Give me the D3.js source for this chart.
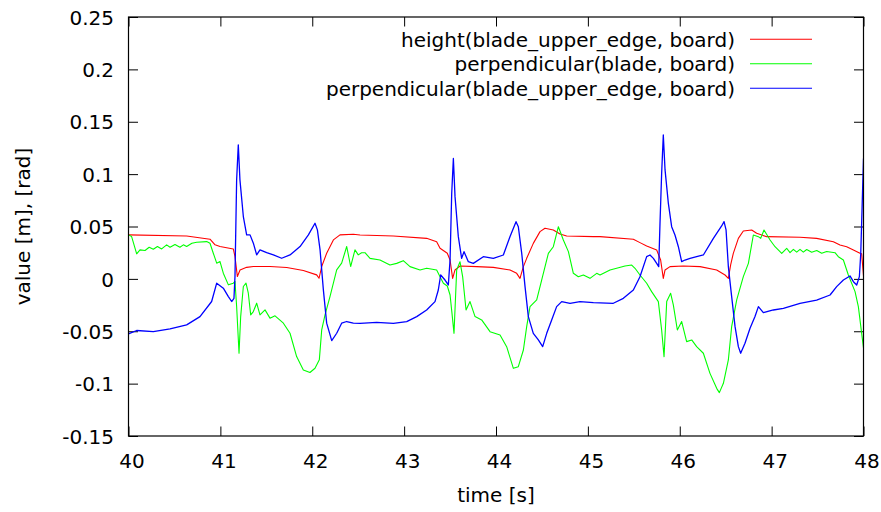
<!DOCTYPE html>
<html>
<head>
<meta charset="utf-8">
<script src="https://cdn.jsdelivr.net/npm/d3@7"></script>
<style>
  body { margin: 0; background: #fff; }
  text { font-family: "DejaVu Sans", sans-serif; fill: #000; }
</style>
</head>
<body>
<div id="chart"></div>
<script>
// data: [time s, value]
const seriesNames = [
  "height(blade_upper_edge, board)",
  "perpendicular(blade, board)",
  "perpendicular(blade_upper_edge, board)"
];

const heightEdge = [
  [40.00,0.042],[40.633,0.041],[40.887,0.0379],[40.942,0.0325],[40.996,0.0309],[41.141,0.0286],
  [41.159,0.0213],[41.185,0.0022],[41.214,0.0085],[41.286,0.011],[41.359,0.0118],[41.540,0.0118],
  [41.722,0.0108],[41.903,0.008],[42.048,0.0038],[42.074,0.0006],[42.103,0.0118],[42.157,0.0245],
  [42.230,0.0372],[42.302,0.042],[42.447,0.0426],[42.52,0.0419],[42.883,0.0409],[43.245,0.0387],
  [43.354,0.0355],[43.391,0.0292],[43.470,0.0244],[43.500,0.018],[43.528,0.0005],[43.554,0.0085],
  [43.608,0.0123],[43.790,0.0117],[43.971,0.011],[44.153,0.0085],[44.225,0.0053],[44.261,0.0005],
  [44.298,0.0117],[44.334,0.0196],[44.406,0.0339],[44.479,0.0451],[44.533,0.0483],[44.624,0.0467],
  [44.697,0.0428],[44.769,0.0409],[45.060,0.0403],[45.132,0.0403],[45.495,0.0378],[45.567,0.0346],
  [45.640,0.0314],[45.749,0.0276],[45.792,0.018],[45.821,0.0005],[45.840,0.0085],[45.894,0.0117],
  [46.039,0.0123],[46.221,0.0117],[46.402,0.0085],[46.493,0.0037],[46.529,0.0005],[46.554,0.0133],
  [46.583,0.0244],[46.638,0.0387],[46.692,0.0457],[46.783,0.0467],[46.837,0.0435],[46.946,0.0403],
  [47.309,0.0397],[47.490,0.0387],[47.672,0.0355],[47.744,0.0323],[47.817,0.0307],[47.890,0.0276],
  [47.962,0.0244],[47.98,0.024],[48.0,0.003]
];

const perpBlade = [
  [40.000,0.042],[40.034,0.0404],[40.089,0.0239],[40.125,0.0277],[40.180,0.0271],[40.225,0.0302],
  [40.270,0.0283],[40.315,0.0309],[40.361,0.0286],[40.415,0.0325],[40.452,0.0302],[40.506,0.0328],
  [40.560,0.0302],[40.597,0.0325],[40.633,0.0309],[40.690,0.034],[40.742,0.035],[40.851,0.0356],
  [40.887,0.034],[40.923,0.0245],[40.960,0.015],[40.996,0.0165],[41.032,0.0054],[41.087,-0.0057],
  [41.141,-0.0041],[41.159,-0.0025],[41.177,-0.0264],[41.203,-0.071],[41.221,-0.036],[41.250,-0.0073],
  [41.279,-0.0041],[41.304,-0.0137],[41.330,-0.0344],[41.359,-0.0312],[41.395,-0.0232],[41.431,-0.0344],
  [41.486,-0.0296],[41.540,-0.0375],[41.595,-0.0353],[41.686,-0.0423],[41.758,-0.0519],[41.830,-0.0742],
  [41.903,-0.0869],[41.975,-0.0894],[42.030,-0.0853],[42.077,-0.0773],[42.103,-0.0487],[42.139,-0.0344],
  [42.193,-0.0169],[42.266,0.0086],[42.320,0.015],[42.375,0.0309],[42.418,0.0118],[42.465,0.0277],
  [42.501,0.0229],[42.537,0.025],[42.574,0.025],[42.629,0.0196],[42.737,0.018],[42.846,0.0132],
  [42.919,0.0148],[42.991,0.0174],[43.064,0.0117],[43.173,0.0085],[43.245,0.0101],[43.354,0.0085],
  [43.391,0.0021],[43.427,-0.0042],[43.470,-0.0068],[43.500,-0.0154],[43.521,-0.0329],[43.543,-0.052],
  [43.572,0.0085],[43.608,0.0164],[43.637,0.0021],[43.674,-0.0297],[43.717,-0.0217],[43.772,-0.036],
  [43.844,-0.0392],[43.935,-0.0504],[44.044,-0.0536],[44.116,-0.0647],[44.189,-0.0854],[44.243,-0.0838],
  [44.298,-0.0679],[44.334,-0.0456],[44.370,-0.0265],[44.443,-0.0201],[44.497,-0.0011],[44.570,0.0244],
  [44.624,0.0307],[44.679,0.0498],[44.733,0.0371],[44.788,0.026],[44.842,0.0053],[44.896,0.0021],
  [44.951,0.0037],[45.023,0.0005],[45.096,0.0053],[45.132,0.0037],[45.241,0.0085],[45.313,0.0101],
  [45.404,0.0123],[45.477,0.0132],[45.513,0.0101],[45.567,0.0037],[45.640,-0.0042],[45.694,-0.0122],
  [45.767,-0.0217],[45.803,-0.0488],[45.829,-0.0742],[45.858,-0.0217],[45.901,-0.0138],[45.930,-0.0249],
  [45.974,-0.0488],[46.021,-0.0408],[46.075,-0.0599],[46.130,-0.0583],[46.184,-0.0647],[46.257,-0.071],
  [46.329,-0.0902],[46.402,-0.1045],[46.431,-0.1086],[46.475,-0.0997],[46.529,-0.0774],[46.565,-0.0456],
  [46.620,-0.0201],[46.692,0.0021],[46.747,0.0148],[46.801,0.0419],[46.856,0.0403],[46.881,0.0387],
  [46.917,0.0467],[46.983,0.0371],[47.037,0.0307],[47.110,0.0244],[47.164,0.0292],[47.200,0.025],
  [47.237,0.0282],[47.273,0.0255],[47.309,0.0282],[47.345,0.0255],[47.382,0.028],[47.436,0.0255],
  [47.491,0.027],[47.545,0.0245],[47.599,0.0262],[47.690,0.025],[47.726,0.0212],[47.781,0.018],
  [47.835,0.0037],[47.908,-0.0122],[47.944,-0.0265],[47.980,-0.052],[48.0,-0.066]
];

const perpEdge = [
  [40.000,-0.0525],[40.089,-0.0493],[40.270,-0.0503],[40.452,-0.0477],[40.633,-0.0439],[40.778,-0.036],
  [40.905,-0.0216],[40.960,-0.0041],[41.032,-0.0089],[41.087,-0.0169],[41.123,-0.0216],[41.148,-0.0185],
  [41.159,0.0022],[41.177,0.0945],[41.195,0.128],[41.213,0.0945],[41.250,0.0595],[41.286,0.042],
  [41.323,0.042],[41.359,0.0341],[41.395,0.0229],[41.431,0.0277],[41.504,0.0251],[41.577,0.0229],
  [41.667,0.0197],[41.758,0.0229],[41.867,0.0309],[41.958,0.042],[42.030,0.0531],[42.056,0.0468],
  [42.085,0.0277],[42.121,-0.0105],[42.157,-0.0423],[42.212,-0.0589],[42.266,-0.0519],[42.320,-0.0423],
  [42.375,-0.0407],[42.447,-0.0423],[42.520,-0.0424],[42.701,-0.0415],[42.883,-0.0424],[43.028,-0.0408],
  [43.137,-0.036],[43.245,-0.0297],[43.336,-0.0217],[43.372,-0.0106],[43.398,0.0037],[43.445,-0.0011],
  [43.481,-0.0058],[43.500,0.018],[43.518,0.0817],[43.536,0.115],[43.554,0.0785],[43.590,0.0403],
  [43.626,0.0196],[43.652,0.026],[43.699,0.0164],[43.753,0.0148],[43.862,0.0212],[43.971,0.0196],
  [44.080,0.0228],[44.152,0.0403],[44.218,0.0546],[44.243,0.0498],[44.280,0.0244],[44.316,-0.0074],
  [44.352,-0.036],[44.406,-0.052],[44.461,-0.0583],[44.508,-0.0647],[44.552,-0.052],[44.606,-0.0392],
  [44.660,-0.0265],[44.715,-0.0217],[44.806,-0.0233],[44.914,-0.0217],[45.060,-0.0227],[45.277,-0.0233],
  [45.386,-0.0186],[45.495,-0.0106],[45.567,0.0021],[45.640,0.0212],[45.676,0.0228],[45.713,0.0196],
  [45.749,0.0148],[45.771,0.0117],[45.785,0.053],[45.803,0.1008],[45.821,0.1374],[45.840,0.104],
  [45.876,0.0721],[45.912,0.0498],[45.948,0.0419],[45.985,0.0307],[46.021,0.0164],[46.057,0.018],
  [46.112,0.0196],[46.184,0.0212],[46.257,0.0228],[46.366,0.0387],[46.456,0.0505],[46.482,0.0546],
  [46.504,0.0467],[46.529,0.0117],[46.565,-0.017],[46.602,-0.0456],[46.638,-0.0647],[46.663,-0.071],
  [46.710,-0.0615],[46.765,-0.0472],[46.819,-0.036],[46.856,-0.0265],[46.910,-0.0323],[47.019,-0.0297],
  [47.128,-0.0281],[47.309,-0.0233],[47.490,-0.0202],[47.636,-0.0154],[47.708,-0.0074],[47.781,-0.0011],
  [47.853,0.0028],[47.890,-0.0027],[47.926,-0.0058],[47.955,0.0021],[47.970,0.024],[47.985,0.069],
  [48.0,0.115]
];

const xTicks = [40, 41, 42, 43, 44, 45, 46, 47, 48];
const yTicks = [-0.15, -0.1, -0.05, 0, 0.05, 0.1, 0.15, 0.2, 0.25];
const yTickLabels = ["-0.15", "-0.1", "-0.05", "0", "0.05", "0.1", "0.15", "0.2", "0.25"];
const colors = ["#ff0000", "#00ff00", "#0000ff"];

// layout
const width = 881;
const height = 512;
const margin = { left: 128.5, right: 17.5, top: 17, bottom: 76 };
const tickLen = 9.5;

const svg = d3.select("#chart")
  .append("svg")
    .attr("width", width)
    .attr("height", height);

const x = d3.scaleLinear().domain([40, 48]).range([margin.left, width - margin.right]);
const y = d3.scaleLinear().domain([-0.15, 0.25]).range([height - margin.bottom, margin.top]);

svg.append("defs").append("clipPath")
    .attr("id", "plot-clip")
  .append("rect")
    .attr("x", x(40))
    .attr("y", y(0.25))
    .attr("width", x(48) - x(40))
    .attr("height", y(-0.15) - y(0.25));

// axes, ticks mirrored on all four sides like gnuplot
const bottomAxis = d3.axisBottom(x).tickValues(xTicks).tickSizeInner(-tickLen).tickSizeOuter(0).tickFormat(d3.format("d"));
const topAxis = d3.axisTop(x).tickValues(xTicks).tickSizeInner(-tickLen).tickSizeOuter(0).tickFormat("");
const leftAxis = d3.axisLeft(y).tickValues(yTicks).tickSizeInner(-tickLen).tickSizeOuter(0)
  .tickFormat((d, i) => yTickLabels[i]);
const rightAxis = d3.axisRight(y).tickValues(yTicks).tickSizeInner(-tickLen).tickSizeOuter(0).tickFormat("");

function styleAxis(g) {
  g.select(".domain").remove();
  g.selectAll(".tick line").attr("stroke", "#000").attr("stroke-width", 1);
  g.selectAll(".tick text").attr("font-size", 20).attr("font-family", "DejaVu Sans");
}

svg.append("g")
  .attr("transform", `translate(0,${y(-0.15)})`)
  .call(bottomAxis)
  .call(styleAxis)
  .call(g => g.selectAll(".tick text").attr("dy", null).attr("y", 31.5).attr("x", 3));

svg.append("g")
  .attr("transform", `translate(0,${y(0.25)})`)
  .call(topAxis)
  .call(styleAxis);

svg.append("g")
  .attr("transform", `translate(${x(40)},0)`)
  .call(leftAxis)
  .call(styleAxis)
  .call(g => g.selectAll(".tick text").attr("x", -14.5).attr("dy", "0.36em"));

svg.append("g")
  .attr("transform", `translate(${x(48)},0)`)
  .call(rightAxis)
  .call(styleAxis);

// lines
const line = d3.line()
  .x(d => x(d[0]))
  .y(d => y(d[1]));

const allSeries = [heightEdge, perpBlade, perpEdge];

svg.append("g")
  .attr("clip-path", "url(#plot-clip)")
  .selectAll("path")
  .data(allSeries)
  .enter()
  .append("path")
    .attr("d", line)
    .attr("fill", "none")
    .attr("stroke", (d, i) => colors[i])
    .attr("stroke-width", (d, i) => i == 2 ? 1.3 : 1.1)
    .attr("stroke-linejoin", "round");

// border
svg.append("rect")
  .attr("x", x(40))
  .attr("y", y(0.25))
  .attr("width", x(48) - x(40))
  .attr("height", y(-0.15) - y(0.25))
  .attr("fill", "none")
  .attr("stroke", "#000")
  .attr("stroke-width", 1.2);

// legend
const legend = svg.append("g")
  .selectAll("g.key")
  .data(seriesNames)
  .enter()
  .append("g")
  .attr("class", "key")
  .attr("transform", (d, i) => `translate(0, ${39.3 + 24.5 * i})`);

legend.append("text")
  .attr("x", 735)
  .attr("dy", "0.36em")
  .attr("text-anchor", "end")
  .attr("font-size", 20)
  .text(d => d);

legend.append("line")
  .attr("x1", 750)
  .attr("x2", 812)
  .attr("stroke", (d, i) => colors[i])
  .attr("stroke-width", 1.1);

// axis titles
svg.append("text")
  .attr("x", (x(40) + x(48)) / 2)
  .attr("y", 502)
  .attr("text-anchor", "middle")
  .attr("font-size", 20)
  .text("time [s]");

svg.append("text")
  .attr("transform", `translate(30, ${(y(-0.15) + y(0.25)) / 2}) rotate(-90)`)
  .attr("text-anchor", "middle")
  .attr("font-size", 20)
  .text("value [m], [rad]");
</script>
</body>
</html>
